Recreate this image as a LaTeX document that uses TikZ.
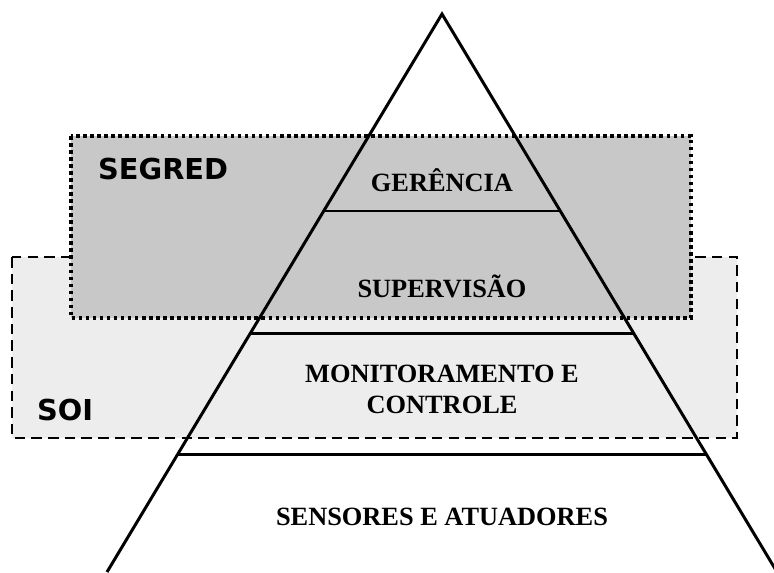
\documentclass[tikz,border=0pt]{standalone}
\usepackage{fontspec}
\setmainfont{Liberation Serif}
\newfontfamily\labelfont{DejaVu Sans}

\tikzset{
  level/.style={font=\fontsize{15}{17.6}\selectfont\bfseries, align=center},
  zone/.style={font=\labelfont\fontsize{16.4}{19}\selectfont\bfseries, anchor=base west},
}

\begin{document}
\begin{tikzpicture}[x=0.02cm, y=-0.02cm]
\useasboundingbox (0, 0) rectangle (774, 572);

\filldraw[fill={rgb,255:red,237;green,237;blue,237}, line width=1.3pt, dash pattern=on 6pt off 3.5pt]
  (12, 257) rectangle (737, 438);
\filldraw[fill={rgb,255:red,200;green,200;blue,200}, line width=2pt, dash pattern=on 2pt off 2pt]
  (71, 136) rectangle (691, 318);

\coordinate (top) at (442, 14);
\coordinate (left) at (107, 572);
\coordinate (right) at (777, 572);
\draw[line width=1.7pt] (left) -- (top) -- (right);
\draw[line width=1.7pt] (324, 211) -- (560, 211);
\draw[line width=1.7pt] (250.5, 333) -- (633.5, 333);
\draw[line width=1.7pt] (178, 454) -- (706, 454);

\node[level, anchor=base] (ger) at (442, 191) {GERÊNCIA};
\node[level, anchor=base] (sup) at (442, 297) {SUPERVISÃO};
\node[level] (mon) at (442, 389) {MONITORAMENTO E\\CONTROLE};
\node[level, anchor=base] (sen) at (442, 525) {SENSORES E ATUADORES};

\node[zone] (segred) at (92, 179) {SEGRED};
\node[zone] (soi) at (31, 420) {SOI};

\end{tikzpicture}
\end{document}
